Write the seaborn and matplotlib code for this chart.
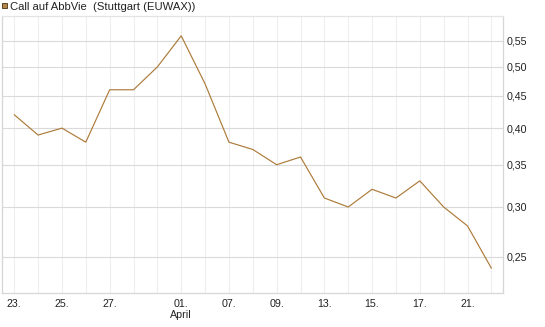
import numpy as np
import pandas as pd
import matplotlib
matplotlib.use('Agg')
import matplotlib.pyplot as plt
from matplotlib.patches import Rectangle
import seaborn as sns

# trading days (index positions) and closing prices
days = ['23.', '24.', '25.', '26.', '27.', '30.', '31.', '01.', '02.', '07.', '08.',
        '09.', '10.', '13.', '14.', '15.', '16.', '17.', '20.', '21.', '22.']
prices = [0.42, 0.39, 0.40, 0.38, 0.46, 0.46, 0.50, 0.56, 0.47, 0.38, 0.37,
          0.35, 0.36, 0.31, 0.30, 0.32, 0.31, 0.33, 0.30, 0.28, 0.24]
tick_pos = [0, 2, 4, 7, 9, 11, 13, 15, 17, 19]
tick_text = ['23.', '25.', '27.', '01.\nApril', '07.', '09.', '13.', '15.', '17.', '21.']
y_ticks = [0.25, 0.30, 0.35, 0.40, 0.45, 0.50, 0.55]
title = 'Call auf AbbVie  (Stuttgart (EUWAX))'

df = pd.DataFrame({'idx': np.arange(len(prices)), 'price': prices})

sns.set_style('white')
plt.rcParams['font.family'] = ['Liberation Sans', 'DejaVu Sans']

line_col = '#ad7b3a'
grid_h = '#dadada'
grid_v = '#eeeeee'
frame = '#d6d6d6'

fig = plt.figure(figsize=(5.45, 3.27), dpi=100)
fig.patch.set_facecolor('white')
ax = fig.add_axes([2.3 / 545, 1 - 293.3 / 327, 501 / 545, 277.3 / 327])

sns.lineplot(data=df, x='idx', y='price', ax=ax, color=line_col, linewidth=0.85, zorder=3)

ax.set_yscale('log')
ax.set_ylim(0.219, 0.602)
ax.set_xlim(-0.5, 20.5)

# vertical grid at every trading day
for i in range(len(prices)):
    ax.axvline(i, color=grid_v, linewidth=0.8, zorder=1)
for v in y_ticks:
    ax.axhline(v, color=grid_h, linewidth=0.8, zorder=1)

ax.set_xticks(range(len(prices)))
ax.set_xticklabels([tick_text[tick_pos.index(i)] if i in tick_pos else '' for i in range(len(prices))])
ax.yaxis.tick_right()
ax.set_yticks(y_ticks)
ax.set_yticklabels([f'{v:.2f}'.replace('.', ',') for v in y_ticks])
ax.yaxis.set_minor_locator(matplotlib.ticker.NullLocator())

ax.tick_params(axis='x', length=2.2, width=0.8, color=grid_v, pad=1.8, labelsize=7.7, labelcolor='#222222')
ax.tick_params(axis='y', length=0, pad=2.6, labelsize=7.7, labelcolor='#222222')
ax.set_xlabel('')
ax.set_ylabel('')

for s in ax.spines.values():
    s.set_visible(True)
    s.set_color(frame)
    s.set_linewidth(0.9)
ax.spines['top'].set_color('#e4e4e4')

# legend square and title
fig.add_artist(Rectangle((1.8 / 545, 1 - 8 / 327), 5.2 / 545, 5.2 / 327, transform=fig.transFigure,
                         facecolor='#b5874a', edgecolor='#5b4424', linewidth=0.7))
fig.text(9.5 / 545, 1 - 10 / 327, title, fontsize=8.1, color='#222222', ha='left', va='baseline')

fig.savefig('out.png', dpi=100)
